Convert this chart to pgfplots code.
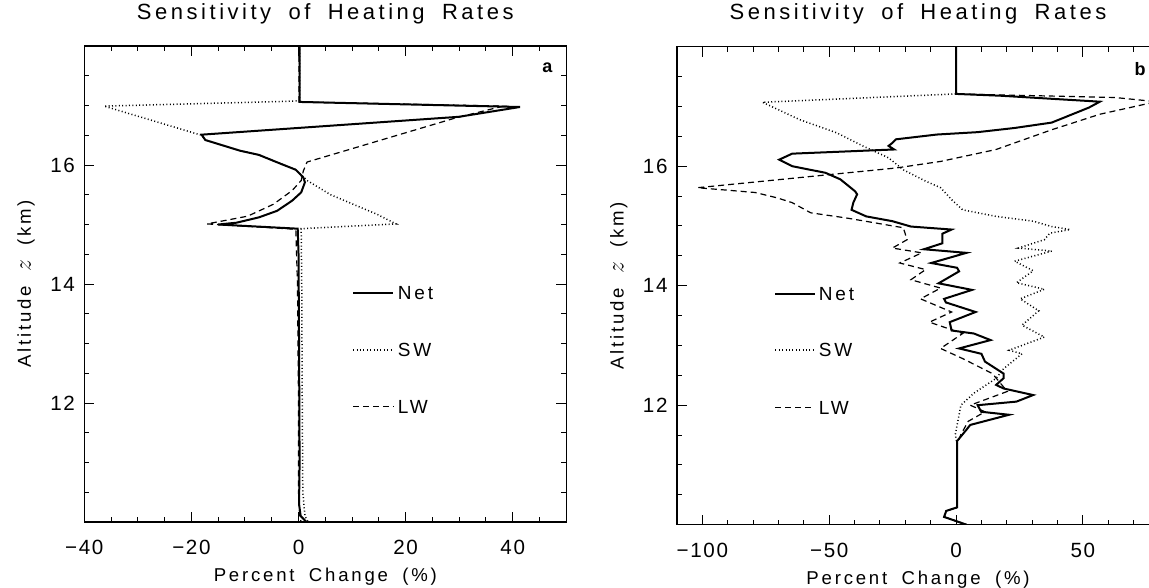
\documentclass[border=0pt]{standalone}
\usepackage{pgfplots}
\pgfplotsset{compat=1.18}
\usepackage{fontspec}
\setmainfont{Liberation Sans}[LetterSpace=15, WordSpace=1.8]
\newfontfamily\titlefont{Liberation Sans}[LetterSpace=16, WordSpace=1.8]
\newfontfamily\tickfont{Liberation Sans}[LetterSpace=8]
\newfontfamily\boldlab{Liberation Sans Bold}

\tikzset{legtext/.style={anchor=west, inner sep=1.5pt, font=\fontsize{9.5}{11}\selectfont}}
\pgfplotsset{
 myaxis/.style={
  scale only axis, width=241pt, height=238pt,
  ymin=10, ymax=18,
  ytick={12,14,16}, yticklabels={12,14,16},
  minor ytick={10.5,11,...,17.5},
  tick align=inside,
  major tick length=5pt, minor tick length=2.5pt,
  axis line style={line width=0.7pt},
  every tick/.style={line width=0.5pt, black},
  tick label style={font=\tickfont\fontsize{10.3}{12}\selectfont},
  xticklabel style={yshift=-5.5pt},
  yticklabel style={xshift=-1.2pt},
  title style={font=\titlefont\fontsize{11}{13}\selectfont, at={(axis description cs:0.5,1.0315)}, anchor=base},
  xlabel style={font=\fontsize{9.3}{12}\selectfont, at={(axis description cs:0.5,-0.1248)}, anchor=base},
  ylabel style={font=\fontsize{9.3}{12}\selectfont, at={(axis description cs:-0.1108,0.5)}, anchor=base},
  title={Sensitivity of Heating Rates},
  xlabel={Percent Change (\%)},
  ylabel={Altitude {\large$z$} (km)},
 },
 net/.style={black, line width=1pt},
 sw/.style={black, line width=0.75pt, dash pattern=on 0.5pt off 1.2pt},
 lw/.style={black, line width=0.6pt, dash pattern=on 3pt off 2pt},
}

\begin{document}
\begin{tikzpicture}
% ---------------- panel a ----------------
\begin{axis}[myaxis, at={(0pt,0pt)}, anchor=south west,
  xmin=-40, xmax=50,
  xtick={-40,-20,0,20,40}, xticklabels={−40,−20,0,20,40},
  minor xtick={-35,-30,...,50}]
\addplot[net] coordinates {(0.2,18) (0.2,17.06) (41.35,16.975) (29.9,16.81) (-18.1,16.51) (-17.4,16.42) (-10.9,16.24) (-7.4,16.17) (-3.3,16.02) (-0.5,15.92) (0.9,15.79) (1.2,15.71) (0.5,15.54) (-1.2,15.40) (-4.0,15.23) (-7.4,15.12) (-11.6,15.03) (-15.0,15.00) (-0.15,14.93) (0.0,14.5) (0.1,13) (0.2,11) (0.1,10.3) (0.4,10.1) (1.5,10.0)};
\addplot[sw] coordinates {(0.2,18) (0.2,17.08) (-2.2,17.07) (-36.3,16.99) (-18.1,16.50) (-17.4,16.42) (-10.9,16.24) (-7.4,16.17) (-3.3,16.02) (-0.5,15.92) (1.6,15.74) (6,15.5) (14.7,15.17) (18.2,15.01) (0.5,14.93) (0.6,14) (0.7,12) (0.8,10.5) (1.2,10.1) (1.8,10.0)};
\addplot[lw] coordinates {(0.1,18) (0.1,17.06) (38.2,16.99) (28.9,16.78) (1.6,16.05) (0.9,15.9) (0.5,15.74) (-1.2,15.57) (-4.7,15.34) (-9.5,15.14) (-17.1,15.01) (-0.5,14.92) (-0.2,14) (0,12) (0,10.5) (0.2,10.1) (0.5,10.0)};
% legend
\addplot[net] coordinates {(10.2,13.85) (17.7,13.85)};
\addplot[sw] coordinates {(10.2,12.89) (17.7,12.89)};
\addplot[lw] coordinates {(10.2,11.94) (17.7,11.94)};
\node[legtext] at (axis cs:17.9,13.85) {Net};
\node[legtext] at (axis cs:17.9,12.89) {SW};
\node[legtext] at (axis cs:17.9,11.94) {LW};
\node[font=\boldlab\fontsize{9}{10}\selectfont] at (rel axis cs:0.9606,0.9538) {a};
\end{axis}

% ---------------- panel b ----------------
\begin{axis}[myaxis, at={(296.35pt,-1.35pt)}, anchor=south west, height=239pt,
  xmin=-110, xmax=80,
  xtick={-100,-50,0,50}, xticklabels={−100,−50,0,50},
  minor xtick={-110,-100,...,80}]
\addplot[net] coordinates {(0,18) (0,17.21) (17.4,17.18) (56.7,17.08) (52.3,16.98) (37.7,16.73) (23.1,16.64) (8.5,16.57) (-7.6,16.53) (-23.7,16.45) (-25.1,16.39) (-26.6,16.34) (-24.4,16.28) (-64.6,16.21) (-69.7,16.11) (-64.6,16.0) (-51.5,15.89) (-45.6,15.78) (-39.8,15.58) (-39.0,15.53) (-40.5,15.39) (-41.2,15.27) (-35.4,15.16) (-25.1,15.08) (-17.8,14.99) (-1.75,14.94) (-5.4,14.87) (-5.4,14.71) (-12.7,14.61) (4.1,14.55) (-9.8,14.38) (0.4,14.30) (1.2,14.24) (-6.9,14.04) (6.3,13.93) (-4.7,13.78) (-4.0,13.72) (7.7,13.56) (-2.5,13.39) (-1.75,13.25) (7.0,13.20) (13.6,13.09) (1.2,12.95) (10.0,12.86) (11.4,12.73) (18.7,12.53) (18.7,12.45) (15.8,12.34) (18.7,12.28) (30.4,12.17) (23.8,12.06) (8.5,12.0) (9.9,11.89) (20.9,11.84) (5.6,11.67) (4.1,11.59) (0.4,11.40) (0.4,11.23) (0.4,10.29) (-3.9,10.23) (-4.7,10.13) (4.1,10.0)};
\addplot[sw] coordinates {(0,18) (0,17.21) (-76.3,17.07) (-61.7,16.78) (-47.1,16.56) (-36.8,16.34) (-26.6,16.14) (-20.8,15.94) (-12.0,15.75) (-6.1,15.64) (-1.75,15.44) (2.6,15.27) (15.8,15.16) (30.4,15.08) (37.7,14.99) (45.0,14.94) (37.0,14.88) (34.8,14.77) (24.6,14.63) (37.7,14.58) (23.1,14.41) (30.4,14.25) (23.8,14.05) (34.8,13.94) (25.3,13.78) (32.6,13.58) (26.0,13.34) (34.8,13.14) (20.9,12.92) (26.0,12.86) (18.7,12.61) (15.8,12.45) (7.0,12.2) (1.9,12.0) (1.2,11.84) (-0.3,11.51) (0.4,11.34) (0.4,10.29) (-3.9,10.23) (-4.7,10.13) (4.1,10.0)};
\addplot[lw] coordinates {(0,18) (0,17.21) (62.6,17.15) (79,17.08) (56.7,16.87) (37.7,16.61) (15.8,16.28) (-6.1,16.08) (-23.7,15.97) (-101.9,15.64) (-79.2,15.56) (-70.5,15.47) (-64.6,15.39) (-57.3,15.22) (-42.7,15.13) (-20.8,14.97) (-19.3,14.77) (-25.1,14.63) (-13.5,14.55) (-22.2,14.38) (-12.0,14.27) (-17.8,14.10) (-6.1,13.96) (-14.0,13.78) (-1.75,13.56) (-10.5,13.39) (2.6,13.20) (-6.1,12.95) (2.6,12.78) (14.3,12.53) (20.2,12.23) (5.6,12.0) (11.4,11.89) (4.8,11.73) (1.9,11.51) (0.4,11.34) (0.4,10.29) (-3.9,10.23) (-4.7,10.13) (4.1,10.0)};
% legend
\addplot[net] coordinates {(-71.2,13.86) (-55.8,13.86)};
\addplot[sw] coordinates {(-71.2,12.92) (-55.8,12.92)};
\addplot[lw] coordinates {(-71.2,11.96) (-55.8,11.96)};
\node[legtext] at (axis cs:-55.4,13.86) {Net};
\node[legtext] at (axis cs:-55.4,12.92) {SW};
\node[legtext] at (axis cs:-55.4,11.96) {LW};
\node[font=\boldlab\fontsize{9}{10}\selectfont] at (rel axis cs:0.9606,0.9538) {b};
\end{axis}
\pgfresetboundingbox
\path[use as bounding box] (-42.15pt,-32.85pt) rectangle (532.35pt,261pt);
\end{tikzpicture}
\end{document}
